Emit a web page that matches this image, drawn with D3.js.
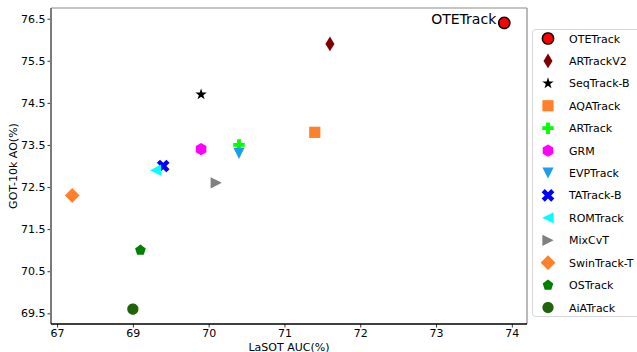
<!DOCTYPE html>
<html>
<head>
<meta charset="utf-8">
<script src="https://cdn.jsdelivr.net/npm/d3@7"></script>
<style>
  body { margin: 0; background: #fff; }
  svg text { font-family: "DejaVu Sans", sans-serif; fill: #000; }
  .axis path { display: none; }
  .axis line { stroke: #000; stroke-width: 0.8; }
  .axis text { font-size: 11px; }
  .axis-label { font-size: 11px; }
  .legend-text { font-size: 11px; }
</style>
</head>
<body>
<div id="chart"></div>
<script>
const trackers = ["OTETrack", "ARTrackV2", "SeqTrack-B", "AQATrack", "ARTrack", "GRM", "EVPTrack",
                  "TATrack-B", "ROMTrack", "MixCvT", "SwinTrack-T", "OSTrack", "AiATrack"];
const lasotAUC = [73.9, 71.6, 69.9, 71.4, 70.4, 69.9, 70.4, 69.4, 69.3, 70.1, 67.2, 69.1, 69.0];
const got10kAO = [76.4, 75.9, 74.7, 73.8, 73.5, 73.4, 73.3, 73.0, 72.9, 72.6, 72.3, 71.0, 69.6];
const xTicks = [67, 69, 70, 71, 72, 73, 74];
const yTicks = [69.5, 70.5, 71.5, 72.5, 73.5, 74.5, 75.5, 76.5];

const markerShapes = ["circle", "thin_diamond", "star", "square", "plus", "hexagon", "tri_down",
                      "x", "tri_left", "tri_right", "diamond", "pentagon", "circle"];
const markerColors = ["#ff0000", "#800000", "#000000", "#ff7f2a", "#00ff00", "#ff00ff", "#1a9fe8",
                      "#0000ff", "#00ffff", "#808080", "#ff7f2a", "#008000", "#1f6408"];

const margin = { top: 8, right: 110, bottom: 28, left: 51 };
const W = 637, H = 352;
const width = 527 - margin.left;
const height = 324 - margin.top;

// marker outlines (svg coordinates, y down)
function pts(list) { return "M" + list.map(p => p.join(",")).join("L") + "Z"; }
function regular(n, r, start) {
  return d3.range(n).map(i => {
    const a = start + i * 2 * Math.PI / n;
    return [r * Math.cos(a), r * Math.sin(a)];
  });
}
function crossPts(s) {
  const h = s / 2, a = s / 6;
  return [[-a,-h],[a,-h],[a,-a],[h,-a],[h,a],[a,a],[a,h],[-a,h],[-a,a],[-h,a],[-h,-a],[-a,-a]];
}
const markerPath = {
  circle: () => pts(regular(40, 5.6, 0)),
  thin_diamond: () => pts([[0,-7.4],[4.5,0],[0,7.4],[-4.5,0]]),
  star: () => pts(d3.range(10).map(i => {
    const r = i % 2 ? 2.3 : 6, a = -Math.PI / 2 + i * Math.PI / 5;
    return [r * Math.cos(a), r * Math.sin(a)];
  })),
  square: () => pts([[-5.6,-5.6],[5.6,-5.6],[5.6,5.6],[-5.6,5.6]]),
  plus: () => pts(crossPts(11.5)),
  hexagon: () => pts(regular(6, 6.1, -Math.PI / 2)),
  tri_down: () => pts([[0,5.6],[-5.6,-5.6],[5.6,-5.6]]),
  x: () => pts(crossPts(13.5).map(([x, y]) => [(x - y) * Math.SQRT1_2, (x + y) * Math.SQRT1_2])),
  tri_left: () => pts([[-5.6,0],[5.6,-5.6],[5.6,5.6]]),
  tri_right: () => pts([[5.6,0],[-5.6,-5.6],[-5.6,5.6]]),
  diamond: () => pts([[0,-7.4],[7.4,0],[0,7.4],[-7.4,0]]),
  pentagon: () => pts(regular(5, 5.6, -Math.PI / 2))
};

const data = trackers.map((name, i) => ({
  name, x: lasotAUC[i], y: got10kAO[i], shape: markerShapes[i], color: markerColors[i]
}));

// the axis skips 68 → 69 (67 sits one unit left of 69)
const unit = width / (74.2 - 66.92 - 1);
const xScale = d3.scaleLinear()
  .domain([66.92, 68, 69, 74.2])
  .range([0, unit * 1.08, unit * 1.08, width]);

const yScale = d3.scaleLinear()
  .domain([69.246, 76.754])
  .range([height, 0]);

const svg = d3.select("#chart").append("svg")
  .attr("width", W).attr("height", H);

const g = svg.append("g")
  .attr("transform", `translate(${margin.left},${margin.top})`);

// X axis
g.append("g")
  .attr("class", "axis")
  .attr("transform", `translate(0,${height})`)
  .call(d3.axisBottom(xScale).tickValues(xTicks).tickSize(3.5).tickPadding(1.8).tickFormat(d3.format("d")));

// Y axis
g.append("g")
  .attr("class", "axis")
  .call(d3.axisLeft(yScale).tickValues(yTicks).tickSize(3.5).tickPadding(2).tickFormat(d3.format(".1f")));

// spines
g.append("line").attr("x1", 0).attr("x2", width).attr("y1", 0).attr("y2", 0)
  .attr("stroke", "#8a8a8a").attr("stroke-width", 1);
g.append("line").attr("x1", width).attr("x2", width).attr("y1", 0).attr("y2", height)
  .attr("stroke", "#8a8a8a").attr("stroke-width", 1.2);
g.append("line").attr("x1", 0).attr("x2", 0).attr("y1", 0).attr("y2", height)
  .attr("stroke", "#7a7a7a").attr("stroke-width", 2);
g.append("line").attr("x1", 0).attr("x2", width).attr("y1", height).attr("y2", height)
  .attr("stroke", "#000").attr("stroke-width", 1.5);

// axis labels
svg.append("text")
  .attr("class", "axis-label")
  .attr("x", margin.left + width / 2)
  .attr("y", 350.5)
  .attr("text-anchor", "middle")
  .text("LaSOT AUC(%)");

svg.append("text")
  .attr("class", "axis-label")
  .attr("transform", "rotate(-90)")
  .attr("x", -(margin.top + height / 2))
  .attr("y", 17)
  .attr("text-anchor", "middle")
  .text("GOT-10k AO(%)");

// points
g.selectAll("path.pt")
  .data(data)
  .join("path")
  .attr("class", "pt")
  .attr("transform", d => `translate(${xScale(d.x)},${yScale(d.y)})`)
  .attr("d", d => markerPath[d.shape]())
  .attr("fill", d => d.color)
  .attr("stroke", d => d.name === "OTETrack" ? "#000" : "none")
  .attr("stroke-width", 1.5);

// OTETrack annotation
const best = data[0];
g.append("text")
  .attr("x", xScale(best.x) - 8)
  .attr("y", yScale(best.y) + 1)
  .attr("text-anchor", "end")
  .style("font-size", "14px")
  .text(best.name);

// Legend
const legend = svg.append("g").attr("transform", "translate(532,29)");
legend.append("rect")
  .attr("x", 0.5).attr("y", 0.5)
  .attr("width", 120).attr("height", 287)
  .attr("rx", 3)
  .attr("fill", "#fff")
  .attr("stroke", "#d6d6d6");

const step = 22.42;
const items = legend.selectAll("g.item")
  .data(data)
  .join("g")
  .attr("class", "item")
  .attr("transform", (d, i) => `translate(16,${9.5 + i * step})`);

items.append("path")
  .attr("d", d => markerPath[d.shape]())
  .attr("fill", d => d.color)
  .attr("stroke", d => d.name === "OTETrack" ? "#000" : "none")
  .attr("stroke-width", 1.5);

items.append("text")
  .attr("class", "legend-text")
  .attr("x", 21)
  .attr("y", 4)
  .text(d => d.name);
</script>
</body>
</html>
